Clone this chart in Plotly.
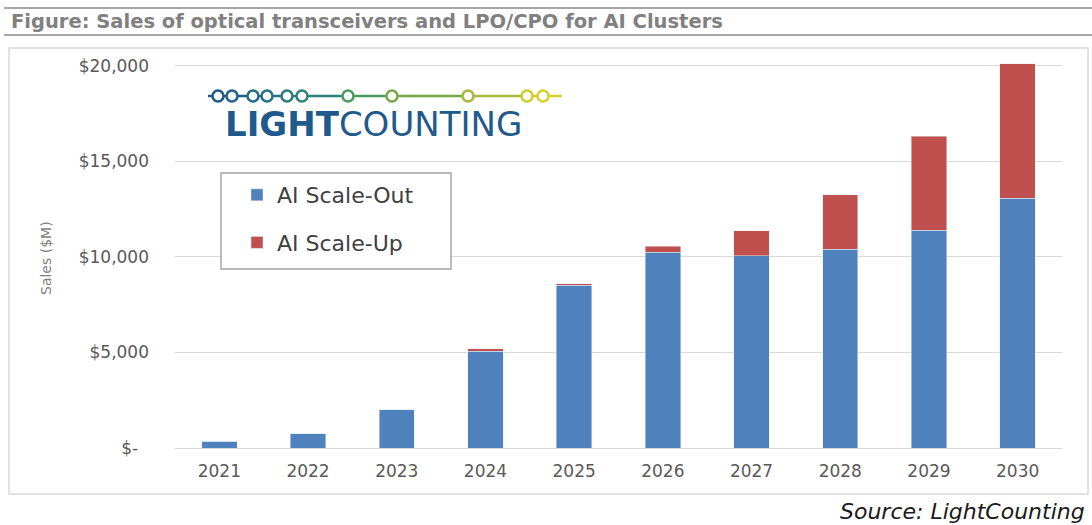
import plotly.graph_objects as go

years = ["2021", "2022", "2023", "2024", "2025", "2026", "2027", "2028", "2029", "2030"]
scale_out = [350, 750, 2000, 5050, 8500, 10230, 10050, 10400, 11400, 13050]
scale_up = [0, 0, 0, 130, 100, 330, 1300, 2850, 4900, 7050]

y_ticks = [0, 5000, 10000, 15000, 20000]
y_labels = ["$-  ", "$5,000", "$10,000", "$15,000", "$20,000"]

W_TOT, H_TOT = 1092, 525
L, R, T, B = 175, 30, 56, 77
PW = W_TOT - L - R
PH = H_TOT - T - B


def px_x(p):
    return (p - L) / PW


def px_y(p):
    return (H_TOT - B - p) / PH


GREY = "#595959"
FONT = "DejaVu Sans"

fig = go.Figure()
fig.add_trace(go.Bar(x=years, y=scale_out, name="AI Scale-Out", marker_color="#4F81BD",
                     legendgroup="a"))
fig.add_trace(go.Bar(x=years, y=scale_up, name="AI Scale-Up", marker_color="#C0504D",
                     legendgroup="b"))

shapes = []
# header rules
shapes.append(dict(type="line", xref="paper", yref="paper", x0=px_x(4), x1=px_x(1092),
                   y0=px_y(8), y1=px_y(8), line=dict(color="#a6a6a6", width=2)))
shapes.append(dict(type="line", xref="paper", yref="paper", x0=px_x(4), x1=px_x(1092),
                   y0=px_y(35), y1=px_y(35), line=dict(color="#a6a6a6", width=2)))
# chart frame
shapes.append(dict(type="rect", xref="paper", yref="paper", x0=px_x(9), x1=px_x(1088),
                   y0=px_y(48), y1=px_y(494), line=dict(color="#d9d9d9", width=1.5),
                   layer="below"))
# legend box
shapes.append(dict(type="rect", xref="paper", yref="paper", x0=px_x(221), x1=px_x(451),
                   y0=px_y(173), y1=px_y(269), line=dict(color="#a6a6a6", width=1.5),
                   fillcolor="white", layer="above"))

# logo: line with rings
ring_x = [218, 232, 253, 267, 287, 302, 348, 392, 468, 527, 543]
ring_c = ["#1d5a8a", "#1f608a", "#226a88", "#257085", "#2a7a80", "#2e827a",
          "#4a9a5e", "#74a84a", "#a8b83a", "#cfca2e", "#d8d02a"]
line_y = 96
pts = [208] + ring_x + [562]
cols = [ring_c[0]] + ring_c + [ring_c[-1]]
for i in range(len(pts) - 1):
    shapes.append(dict(type="line", xref="paper", yref="paper", x0=px_x(pts[i]), x1=px_x(pts[i + 1]),
                       y0=px_y(line_y), y1=px_y(line_y), line=dict(color=cols[i], width=2.5),
                       layer="above"))
for xc, c in zip(ring_x, ring_c):
    shapes.append(dict(type="circle", xref="paper", yref="paper", xsizemode="pixel", ysizemode="pixel",
                       xanchor=px_x(xc), yanchor=px_y(line_y), x0=-5.5, x1=5.5, y0=-5.5, y1=5.5,
                       fillcolor="white", line=dict(color=c, width=2.5), layer="above"))

annotations = [
    dict(text="<b>Figure: Sales of optical transceivers and LPO/CPO for AI Clusters</b>",
         xref="paper", yref="paper", x=px_x(9), y=px_y(21), xanchor="left", yanchor="middle",
         showarrow=False, font=dict(family=FONT, size=19.5, color="#808080")),
    dict(text="<b>LIGHT</b>COUNTING", xref="paper", yref="paper", x=px_x(223), y=px_y(124),
         xanchor="left", yanchor="middle", showarrow=False,
         font=dict(family=FONT, size=34, color="#1f5a8c")),
    dict(text="Sales ($M)", xref="paper", yref="paper", x=px_x(46), y=px_y(258), textangle=-90,
         xanchor="center", yanchor="middle", showarrow=False,
         font=dict(family=FONT, size=14, color="#7f7f7f")),
    dict(text="<i>Source: LightCounting</i>", xref="paper", yref="paper", x=px_x(1087), y=px_y(511),
         xanchor="right", yanchor="middle", showarrow=False,
         font=dict(family=FONT, size=22, color="#1a1a1a")),
]

fig.update_layout(
    width=W_TOT, height=H_TOT,
    margin=dict(l=L, r=R, t=T, b=B, autoexpand=False),
    barmode="stack", bargap=0.6,
    paper_bgcolor="white", plot_bgcolor="white",
    font=dict(family=FONT, color=GREY),
    shapes=shapes, annotations=annotations,
    legend=dict(x=px_x(237), y=px_y(174), xanchor="left", yanchor="top",
                traceorder="grouped", tracegroupgap=16, bgcolor="rgba(0,0,0,0)",
                font=dict(family=FONT, size=22, color="#404040")),
)
fig.update_xaxes(showline=True, linecolor="#d9d9d9", linewidth=1, ticks="",
                 tickfont=dict(size=17, color=GREY), ticklabelstandoff=8)
fig.update_yaxes(range=[0, 20500], tickvals=y_ticks, ticktext=y_labels, showgrid=True,
                 gridcolor="#d9d9d9", gridwidth=1, zeroline=False, ticks="",
                 tickfont=dict(size=17, color=GREY), ticklabelstandoff=25)

# page body has a default 8px margin; drop it so the figure fills the window
fig.write_html("out.html", config={"displayModeBar": False},
               post_script="document.body.style.margin='0';")
